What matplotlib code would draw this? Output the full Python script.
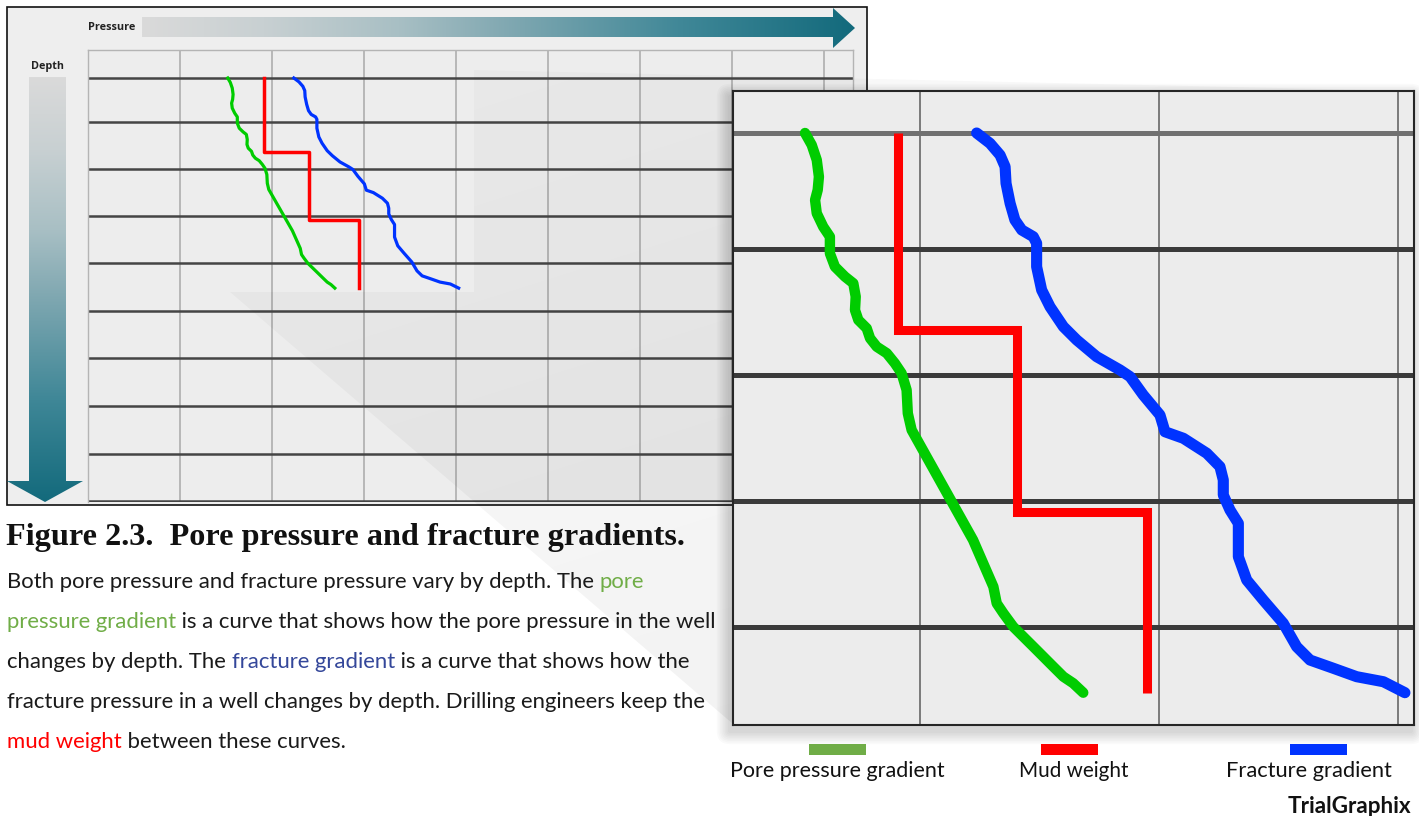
import numpy as np
import matplotlib
matplotlib.use("Agg")
import matplotlib.pyplot as plt
from matplotlib.patches import Polygon, Rectangle, FancyBboxPatch
from matplotlib.colors import LinearSegmentedColormap

# ---- data (pressure in grid units, depth in grid units) ----
pore_pressure = [1.519, 1.547, 1.568, 1.577, 1.572, 1.561, 1.568, 1.595, 1.623, 1.623, 1.644, 1.686,
                 1.721, 1.731, 1.728, 1.742, 1.777, 1.791, 1.819, 1.861, 1.895, 1.923, 1.944, 1.949,
                 1.965, 2.222, 2.307, 2.321, 2.349, 2.390, 2.488, 2.558, 2.600, 2.641, 2.683]
pore_depth = [0.0, 0.095, 0.214, 0.347, 0.452, 0.532, 0.637, 0.744, 0.823, 0.955, 1.061, 1.140,
              1.193, 1.299, 1.405, 1.484, 1.550, 1.629, 1.696, 1.748, 1.828, 1.907, 2.040, 2.225,
              2.357, 3.230, 3.601, 3.733, 3.812, 3.918, 4.103, 4.236, 4.315, 4.367, 4.442]

mud_pressure = [1.908, 1.908, 2.406, 2.406, 2.950, 2.950]
mud_depth = [0.0, 1.563, 1.563, 3.008, 3.008, 4.444]

frac_pressure = [2.237, 2.293, 2.335, 2.356, 2.360, 2.377, 2.397, 2.426, 2.474, 2.488, 2.488, 2.509,
                 2.544, 2.600, 2.656, 2.739, 2.837, 2.879, 2.934, 3.004, 3.025, 3.102, 3.200, 3.255,
                 3.269, 3.269, 3.297, 3.332, 3.332, 3.367, 3.436, 3.520, 3.576, 3.632, 3.729, 3.827,
                 3.939, 4.029]
frac_depth = [0.0, 0.082, 0.175, 0.267, 0.399, 0.558, 0.690, 0.770, 0.823, 0.875, 1.061, 1.246,
              1.379, 1.537, 1.643, 1.775, 1.881, 1.934, 2.079, 2.238, 2.371, 2.423, 2.542, 2.648,
              2.754, 2.873, 2.992, 3.098, 3.363, 3.548, 3.706, 3.891, 4.077, 4.183, 4.248, 4.315,
              4.355, 4.442]

depth_lines = [0, 0.92, 1.92, 2.92, 3.92, 4.93, 5.93, 6.94, 7.94, 8.95]
pressure_lines = [1, 2, 3, 4, 5, 6, 7, 8]

legend_labels = ["Pore pressure gradient", "Mud weight", "Fracture gradient"]
legend_colors = ["#70ad47", "#ff0000", "#0033ff"]
curve_colors = ["#00cc00", "#ff0000", "#0033ff"]

W, H = 1419, 816
BODY_FONT = ["Lato", "DejaVu Sans"]


def px_rect(x0, y0, x1, y1):
    return [x0 / W, 1 - y1 / H, (x1 - x0) / W, (y1 - y0) / H]


fig = plt.figure(figsize=(W / 100, H / 100), dpi=100)
renderer = fig.canvas.get_renderer()

# background layer (pixel coords)
ax_bg = fig.add_axes([0, 0, 1, 1], zorder=0)
ax_bg.axis("off")

ax_bg.add_patch(Rectangle((7, 7), 860, 498, fc="#eeeeee", ec="#111111", lw=1.2, zorder=1))

grad_cmap = LinearSegmentedColormap.from_list(
    "teal", [(0, "#dadada"), (0.17, "#c8d0d2"), (0.36, "#a8bfc4"), (0.5, "#84aab3"),
             (0.76, "#3f8797"), (1, "#136a7c")])

# pressure arrow
arr_p = Polygon([(142, 17), (833, 17), (833, 8), (855, 28), (833, 48), (833, 37), (142, 37)],
                closed=True, fc="none", ec="none")
ax_bg.add_patch(arr_p)
img = ax_bg.imshow(np.linspace(0, 1, 256)[None, :], cmap=grad_cmap, aspect="auto",
                   extent=(142, 855, 48, 8), interpolation="bilinear", zorder=2)
img.set_clip_path(arr_p)

# depth arrow
arr_d = Polygon([(29, 77), (66, 77), (66, 481), (83, 481), (45, 502), (7, 481), (29, 481)],
                closed=True, fc="none", ec="none")
ax_bg.add_patch(arr_d)
img2 = ax_bg.imshow(np.linspace(0, 1, 256)[:, None], cmap=grad_cmap, aspect="auto",
                    extent=(7, 83, 502, 77), origin="upper", interpolation="bilinear", zorder=2)
img2.set_clip_path(arr_d)
ax_bg.set_xlim(0, W)
ax_bg.set_ylim(H, 0)


def fit_text(ax, x, y, s, width, fs0=12, **kw):
    t = ax.text(x, y, s, fontsize=fs0, **kw)
    w = t.get_window_extent(renderer).width
    t.set_fontsize(fs0 * width / w)
    return t


fit_text(ax_bg, 88, 28, "Pressure", 47, va="center", ha="left", fontweight="bold",
         family=["Open Sans", "DejaVu Sans"], color="#222222", zorder=3)
fit_text(ax_bg, 31, 66, "Depth", 33, va="center", ha="left", fontweight="bold",
         family=["Open Sans", "DejaVu Sans"], color="#222222", zorder=3)

# ---- small overview chart ----
ax_s = fig.add_axes(px_rect(88, 50, 853, 502), zorder=1)
ax_s.set_facecolor("#ededed")
ax_s.set_xlim(0, (853 - 88) / 92)
ax_s.set_ylim((502 - 78) / 47.3, (50 - 78) / 47.3)
ax_s.set_xticks([])
ax_s.set_yticks([])
for side in ["top", "left", "right"]:
    ax_s.spines[side].set_color("#b4b4b4")
    ax_s.spines[side].set_linewidth(1)
ax_s.spines["bottom"].set_visible(False)
for p in pressure_lines:
    ax_s.axvline(p, color="#a8a8a8", lw=1.1, zorder=1)
for d in depth_lines:
    ax_s.axhline(d, color="#454545", lw=1.8, zorder=1.1)
ax_s.plot(pore_pressure, pore_depth, color=curve_colors[0], lw=2.3, solid_joinstyle="round", zorder=3)
ax_s.plot(mud_pressure, mud_depth, color=curve_colors[1], lw=2.5, zorder=3)
ax_s.plot(frac_pressure, frac_depth, color=curve_colors[2], lw=2.3, solid_joinstyle="round", zorder=3)

# ---- overlay: zoom fan, shadow, texts ----
ax_o = fig.add_axes([0, 0, 1, 1], zorder=2)
ax_o.axis("off")

fan = Polygon([(474, 70), (1414, 91), (1414, 724), (733, 724), (230, 292), (474, 292)],
              closed=True, fc="none", ec="none")
ax_o.add_patch(fan)
yy, xx = np.mgrid[0:H:4, 0:W:4]
tt = np.clip(((xx - 474) * 0.3 + (yy - 70) * 0.95) / 700, 0, 1)
rgba = np.zeros(xx.shape + (4,))
rgba[..., 3] = 0.022 + 0.03 * tt
fimg = ax_o.imshow(rgba, extent=(0, W, H, 0), aspect="auto", interpolation="bilinear")
fimg.set_clip_path(fan)

# drop shadow of zoomed panel
for i in range(8):
    pad = 2 + i * 1.6
    ax_o.add_patch(FancyBboxPatch((733 - 3, 91 + 6), 681, 634,
                                  boxstyle=f"round,pad={pad},rounding_size={pad}",
                                  fc="black", ec="none", alpha=0.02))

ax_o.set_xlim(0, W)
ax_o.set_ylim(H, 0)

# caption
fit_text(ax_o, 6, 545, "Figure 2.3.  Pore pressure and fracture gradients.", 674,
         va="baseline", ha="left", fontweight="bold", family=["Liberation Serif", "DejaVu Serif"],
         color="#111111")

body_lines = [
    [("Both pore pressure and fracture pressure vary by depth. The ", "#1a1a1a"), ("pore", "#70ad47")],
    [("pressure gradient", "#70ad47"), (" is a curve that shows how the pore pressure in the well", "#1a1a1a")],
    [("changes by depth. The ", "#1a1a1a"), ("fracture gradient", "#34479a"),
     (" is a curve that shows how the", "#1a1a1a")],
    [("fracture pressure in a well changes by depth. Drilling engineers keep the", "#1a1a1a")],
    [("mud weight", "#ff0000"), (" between these curves.", "#1a1a1a")],
]


def text_width(s, fs, **kw):
    t = ax_o.text(0, 0, s, fontsize=fs, **kw)
    w = t.get_window_extent(renderer).width
    t.remove()
    return w


fs_body = 12 * 697 / text_width(body_lines[3][0][0], 12, family=BODY_FONT)
bar_w = text_width("|", fs_body, family=BODY_FONT)
for i, runs in enumerate(body_lines):
    y = 588 + 40 * i
    prefix = ""
    for s, c in runs:
        x = 7 + (text_width(prefix + "|", fs_body, family=BODY_FONT) - bar_w if prefix else 0)
        ax_o.text(x, y, s, fontsize=fs_body, family=BODY_FONT, color=c, va="baseline", ha="left")
        prefix += s

# legend
bar_x = [809, 1041, 1290]
label_cx = [837, 1073.5, 1309]
label_w = [214, 109, 166]
for bx, cx, lw_, lab, col in zip(bar_x, label_cx, label_w, legend_labels, legend_colors):
    ax_o.add_patch(Rectangle((bx, 744), 57, 11, fc=col, ec="none"))
    fit_text(ax_o, cx, 777, lab, lw_, va="baseline", ha="center", family=BODY_FONT, color="#111111")

fit_text(ax_o, 1411, 813, "TrialGraphix", 123, va="baseline", ha="right", fontweight="bold",
         family=BODY_FONT, color="#111111")

# ---- zoomed chart ----
ax_b = fig.add_axes(px_rect(733, 91, 1414, 725), zorder=3)
ax_b.set_facecolor("#ececec")
ax_b.set_xlim(2 + (733 - 920) / 239, 2 + (1414 - 920) / 239)
ax_b.set_ylim((725 - 133) / 126, (91 - 133) / 126)
ax_b.set_xticks([])
ax_b.set_yticks([])
for side in ax_b.spines.values():
    side.set_color("#262626")
    side.set_linewidth(1.5)
for p in pressure_lines:
    ax_b.axvline(p, color="#7a7a7a", lw=1.4, zorder=1)
for d in depth_lines:
    ax_b.axhline(d, color="#707070" if d == 0 else "#3a3a3a", lw=3.6, zorder=1.1)
ax_b.plot(pore_pressure, pore_depth, color=curve_colors[0], lw=7.5, solid_joinstyle="round",
          solid_capstyle="round", zorder=3)
ax_b.plot(mud_pressure, mud_depth, color=curve_colors[1], lw=6.5, solid_joinstyle="miter",
          solid_capstyle="butt", zorder=3)
ax_b.plot(frac_pressure, frac_depth, color=curve_colors[2], lw=8, solid_joinstyle="round",
          solid_capstyle="round", zorder=3)

fig.savefig("out.png", dpi=100)
